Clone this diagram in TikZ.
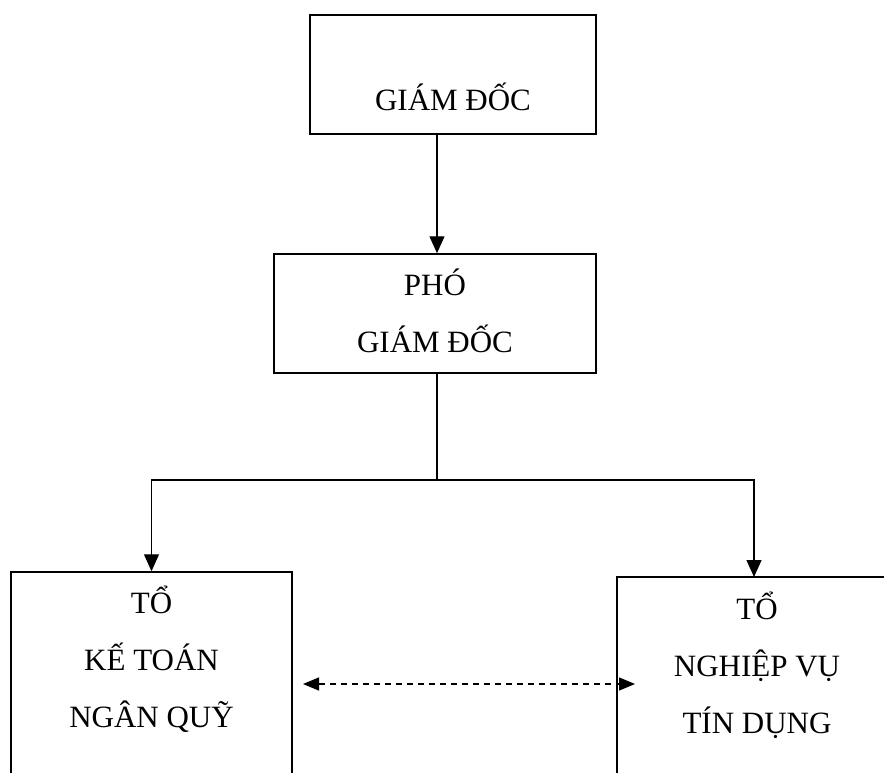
\documentclass[tikz,border=0pt]{standalone}
\usepackage{fontspec}
\setmainfont{Liberation Serif}
\usetikzlibrary{arrows.meta,positioning}

\begin{document}
\begin{tikzpicture}[x=1pt,y=-1pt,
    font=\fontsize{31}{57}\selectfont,
    unit/.style={draw,line width=1.5pt,inner sep=0pt},
    caption/.style={align=center,inner sep=0pt,anchor=base},
    link/.style={line width=1.3pt,-{Triangle[length=17pt,width=15pt]}},
    talk/.style={line width=1.3pt,dash pattern=on 6pt off 5pt,
                 {Triangle[length=16pt,width=13pt]}-{Triangle[length=16pt,width=13pt]}}]
  \useasboundingbox (0,0) rectangle (884,773);
  \clip (0,0) rectangle (884,773);

  % boxes
  \node[unit,minimum width=286pt,minimum height=119pt] (gd)  at (453,74.5)  {};
  \node[unit,minimum width=322pt,minimum height=119pt] (pgd) at (435,313.5) {};
  \node[unit,minimum width=281pt,minimum height=230pt] (tkt) at (151.5,687) {};
  \node[unit,minimum width=280pt,minimum height=230pt] (tnv) at (757,692)   {};

  % texts (anchored at the baseline of the last line)
  \node[caption] (gdText)  at (453,111)   {GIÁM ĐỐC};
  \node[caption] (pgdText) at (435,352)   {PHÓ\\GIÁM ĐỐC};
  \node[caption] (tktText) at (151.5,727) {TỔ\\KẾ TOÁN\\NGÂN QUỸ};
  \node[caption] (tnvText) at (757,733)   {TỔ\\NGHIỆP VỤ\\TÍN DỤNG};

  % connectors
  \coordinate (split) at (437,480);
  \draw[link] (gd.south -| split) -- (pgd.north -| split);
  \draw[line width=1.3pt] (pgd.south -| split) -- (split);
  \draw[link] (split) -| (tkt.north);
  \draw[link] (split) -| (754,577);

  \coordinate (talkL) at (303,684);
  \coordinate (talkR) at (635,684);
  \draw[talk] (talkL) -- (talkR);
\end{tikzpicture}
\end{document}
